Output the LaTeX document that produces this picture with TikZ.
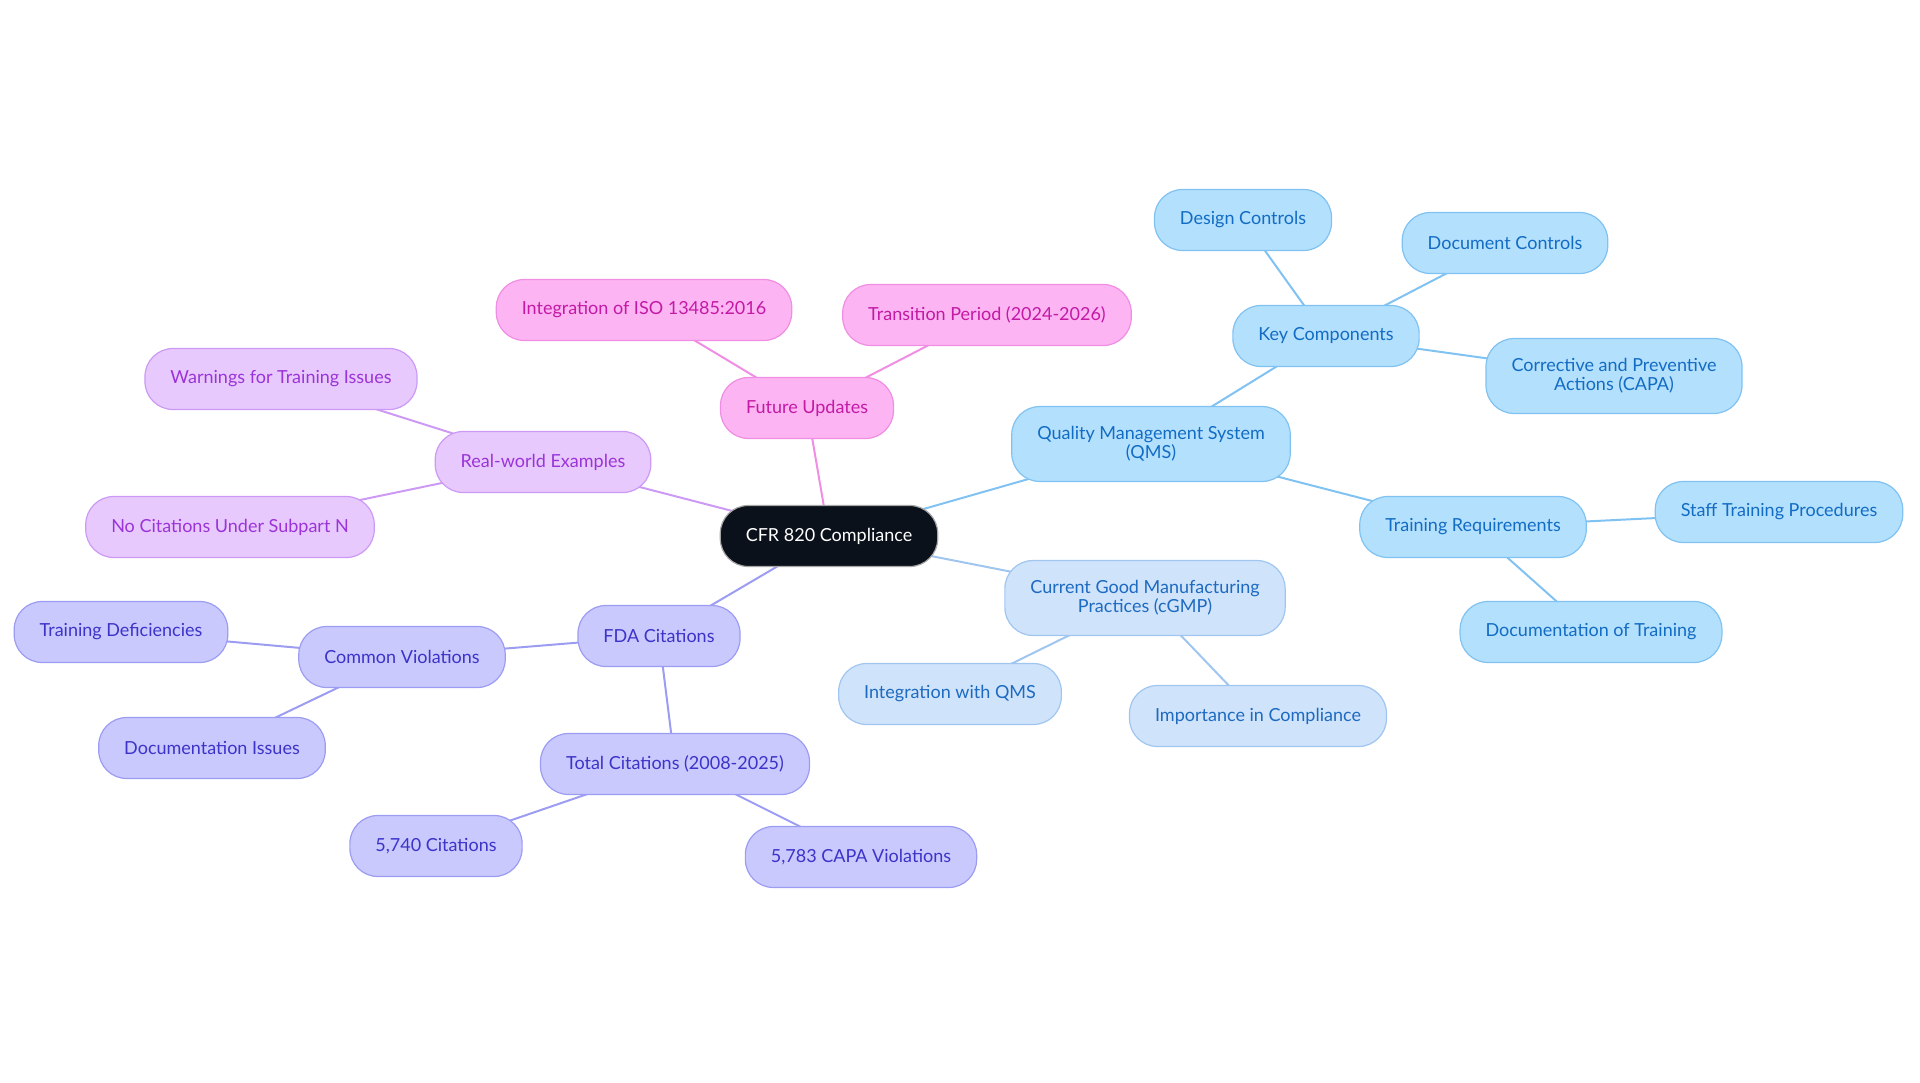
\documentclass[tikz,border=0pt]{standalone}
\usepackage{fontspec}
\setmainfont{Lato}
\usetikzlibrary{positioning}
\usetikzlibrary{backgrounds}
\definecolor{rootfill}{HTML}{0B111B}
\definecolor{pinkfill}{HTML}{FDB4F3}
\definecolor{pinkline}{HTML}{F08EE3}
\definecolor{pinktext}{HTML}{C21AA5}
\definecolor{purpfill}{HTML}{E8C9FD}
\definecolor{purpline}{HTML}{CC9AF5}
\definecolor{purptext}{HTML}{9B34D8}
\definecolor{lavfill}{HTML}{C9C9FE}
\definecolor{lavline}{HTML}{9D9CF3}
\definecolor{lavtext}{HTML}{3C33C8}
\definecolor{bluefill}{HTML}{B3E0FD}
\definecolor{blueline}{HTML}{80C2F2}
\definecolor{bluetext}{HTML}{136CC4}
\definecolor{skyfill}{HTML}{CFE3FB}
\definecolor{skyline}{HTML}{A0C6F0}
\definecolor{skytext}{HTML}{1D6AC0}

\begin{document}
\begin{tikzpicture}[x=1pt, y=-1pt,
  every node/.style={draw, rounded corners=28pt, line width=1.2pt, minimum height=61pt,
    inner xsep=25.5pt, inner ysep=20pt, align=center, font=\fontsize{18}{19}\selectfont},
  root/.style={fill=rootfill, draw=gray!70, text=white},
  pinknode/.style={fill=pinkfill, draw=pinkline, text=pinktext},
  purpnode/.style={fill=purpfill, draw=purpline, text=purptext},
  lavnode/.style={fill=lavfill, draw=lavline, text=lavtext},
  bluenode/.style={fill=bluefill, draw=blueline, text=bluetext},
  skynode/.style={fill=skyfill, draw=skyline, text=skytext},
  link/.style={line width=2pt}]
\useasboundingbox (0,0) rectangle (1920,1083);
\node[root] (G0N0) at (829,536) {CFR 820 Compliance};
\node[pinknode] (G1N0) at (807,408) {Future Updates};
\node[pinknode] (G1N1) at (644,310) {Integration of ISO 13485:2016};
\node[pinknode] (G1N2) at (987,315) {Transition Period (2024-2026)};
\node[purpnode] (G2N0) at (543,462) {Real-world Examples};
\node[purpnode] (G2N1) at (281,379) {Warnings for Training Issues};
\node[purpnode] (G2N2) at (230,527) {No Citations Under Subpart N};
\node[lavnode] (G3N0) at (659,636) {FDA Citations};
\node[lavnode] (G3N1) at (402,657) {Common Violations};
\node[lavnode] (G3N2) at (121,632) {Training Deficiencies};
\node[lavnode] (G3N3) at (212,748) {Documentation Issues};
\node[lavnode] (G3N4) at (675,764) {Total Citations (2008-2025)};
\node[lavnode] (G3N5) at (436,846) {5,740 Citations};
\node[lavnode] (G3N6) at (861,857) {5,783 CAPA Violations};
\node[bluenode] (G4N0) at (1151,444) {Quality Management System\\(QMS)};
\node[bluenode] (G4N1) at (1326,336) {Key Components};
\node[bluenode] (G4N2) at (1243,220) {Design Controls};
\node[bluenode] (G4N3) at (1505,243) {Document Controls};
\node[bluenode] (G4N4) at (1614,376) {Corrective and Preventive\\Actions (CAPA)};
\node[bluenode] (G4N5) at (1473,527) {Training Requirements};
\node[bluenode] (G4N6) at (1779,512) {Staff Training Procedures};
\node[bluenode] (G4N7) at (1591,632) {Documentation of Training};
\node[skynode] (G5N0) at (1145,598) {Current Good Manufacturing\\Practices (cGMP)};
\node[skynode] (G5N1) at (950,694) {Integration with QMS};
\node[skynode] (G5N2) at (1258,716) {Importance in Compliance};
\begin{pgfonlayer}{background}
\draw[link, pinkline] (G0N0.center) -- (G1N0.center);
\draw[link, pinkline] (G1N0.center) -- (G1N1.center);
\draw[link, pinkline] (G1N0.center) -- (G1N2.center);
\draw[link, purpline] (G0N0.center) -- (G2N0.center);
\draw[link, purpline] (G2N0.center) -- (G2N1.center);
\draw[link, purpline] (G2N0.center) -- (G2N2.center);
\draw[link, lavline] (G0N0.center) -- (G3N0.center);
\draw[link, lavline] (G3N0.center) -- (G3N1.center);
\draw[link, lavline] (G3N1.center) -- (G3N2.center);
\draw[link, lavline] (G3N1.center) -- (G3N3.center);
\draw[link, lavline] (G3N0.center) -- (G3N4.center);
\draw[link, lavline] (G3N4.center) -- (G3N5.center);
\draw[link, lavline] (G3N4.center) -- (G3N6.center);
\draw[link, blueline] (G0N0.center) -- (G4N0.center);
\draw[link, blueline] (G4N0.center) -- (G4N1.center);
\draw[link, blueline] (G4N1.center) -- (G4N2.center);
\draw[link, blueline] (G4N1.center) -- (G4N3.center);
\draw[link, blueline] (G4N1.center) -- (G4N4.center);
\draw[link, blueline] (G4N0.center) -- (G4N5.center);
\draw[link, blueline] (G4N5.center) -- (G4N6.center);
\draw[link, blueline] (G4N5.center) -- (G4N7.center);
\draw[link, skyline] (G0N0.center) -- (G5N0.center);
\draw[link, skyline] (G5N0.center) -- (G5N1.center);
\draw[link, skyline] (G5N0.center) -- (G5N2.center);
\end{pgfonlayer}
\end{tikzpicture}
\end{document}
